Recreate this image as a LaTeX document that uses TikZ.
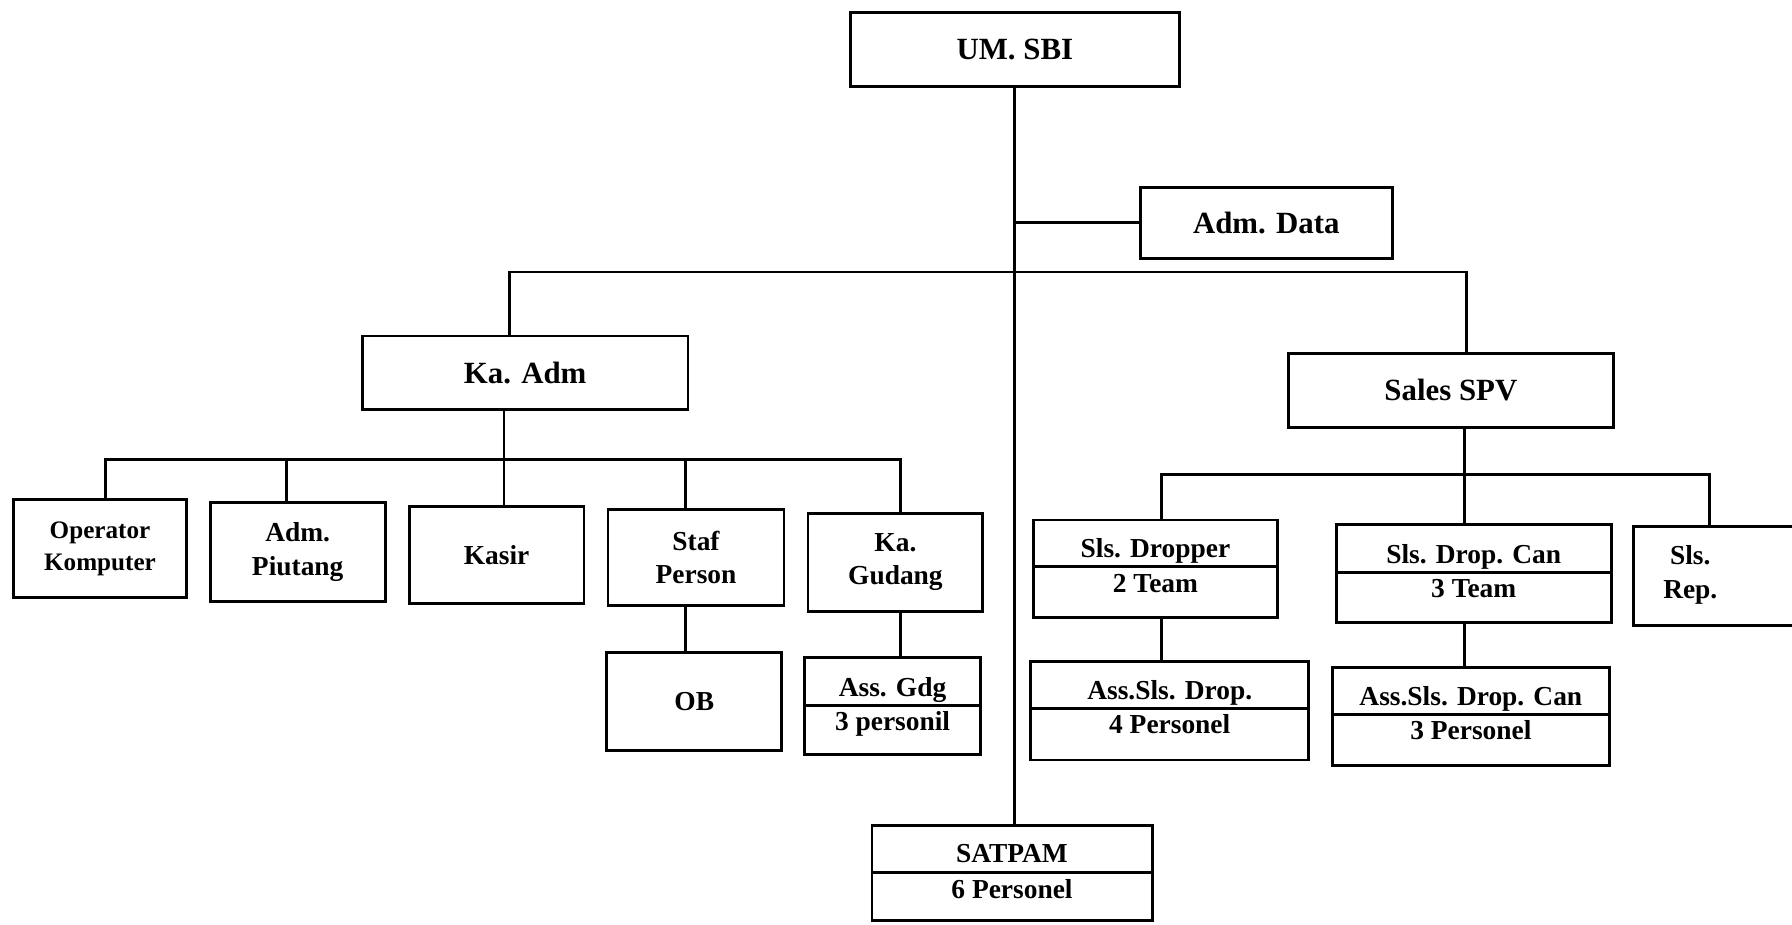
\documentclass[tikz,border=0pt]{standalone}
\usepackage{fontspec}
\setmainfont{Liberation Serif}
\begin{document}
\begin{tikzpicture}[x=1pt,y=-1pt,
  box/.style={draw, line width=2.6pt, inner sep=0pt, outer sep=0pt, align=center,
    font=\bfseries\fontsize{24}{29}\selectfont},
  bigbox/.style={box, font=\bfseries\fontsize{27}{30}\selectfont},
  smallbox/.style={box, font=\bfseries\fontsize{22}{28}\selectfont},
  txt/.style={inner sep=0pt, outer sep=0pt, align=center, anchor=base,
    font=\bfseries\fontsize{24}{29}\selectfont},
  link/.style={line width=2.6pt, line cap=rect},
  divider/.style={line width=2.6pt}]
\useasboundingbox (0,0) rectangle (1568,809);

% top level
\node[bigbox, minimum width=288, minimum height=65] (um) at (888,43.5) {UM. SBI};
\node[bigbox, minimum width=220, minimum height=62] (admdata) at (1108,195) {Adm. Data};
\node[bigbox, minimum width=285, minimum height=64] (kaadm) at (459.5,326) {Ka. Adm};
\node[bigbox, minimum width=285, minimum height=65] (sales) at (1269.5,341.5) {Sales SPV};

% admin children
\node[smallbox, minimum width=151, minimum height=86] (op) at (87.5,480) {Operator\\Komputer};
\node[box, minimum width=153, minimum height=86] (piutang) at (260.5,483) {Adm.\\Piutang};
\node[box, minimum width=153, minimum height=85] (kasir) at (434.5,485.5) {Kasir};
\node[box, minimum width=154, minimum height=84] (staf) at (609,488) {Staf\\Person};
\node[box, minimum width=153, minimum height=86] (gudang) at (783.5,492) {Ka.\\Gudang};
\node[box, minimum width=153, minimum height=86] (ob) at (607.5,614) {OB};

% Ass. Gdg
\node[box, minimum width=154, minimum height=85] (assgdg) at (781,617.5) {};
\node[txt] (assgdgA) at (781,609) {Ass. Gdg};
\node[txt] (assgdgB) at (781,639) {3 personil};
\draw[divider] (assgdg.west |- 0,617) -- (assgdg.east |- 0,617);

% sales children
\node[box, minimum width=214, minimum height=85] (dropper) at (1011,497.5) {};
\node[txt] (dropperA) at (1011,488) {Sls. Dropper};
\node[txt] (dropperB) at (1011,518) {2 Team};
\draw[divider] (dropper.west |- 0,496) -- (dropper.east |- 0,496);

\node[box, minimum width=241, minimum height=86] (dropcan) at (1289.5,502) {};
\node[txt] (dropcanA) at (1289.5,493) {Sls. Drop. Can};
\node[txt] (dropcanB) at (1289.5,523) {3 Team};
\draw[divider] (dropcan.west |- 0,501) -- (dropcan.east |- 0,501);

\node[box, minimum width=161, minimum height=86] (slsrep) at (1509.5,504) {};
\node[txt, anchor=center] (slsrepT) at (1479,503) {Sls.\\Rep.};

\node[box, minimum width=243, minimum height=86] (assdrop) at (1023.5,622) {};
\node[txt] (assdropA) at (1023.5,612) {Ass.Sls. Drop.};
\node[txt] (assdropB) at (1023.5,642) {4 Personel};
\draw[divider] (assdrop.west |- 0,620) -- (assdrop.east |- 0,620);

\node[box, minimum width=242, minimum height=86] (assdropcan) at (1287,627) {};
\node[txt] (assdropcanA) at (1287,617) {Ass.Sls. Drop. Can};
\node[txt] (assdropcanB) at (1287,647) {3 Personel};
\draw[divider] (assdropcan.west |- 0,625) -- (assdropcan.east |- 0,625);

% SATPAM
\node[box, minimum width=245, minimum height=83] (satpam) at (885.5,763.5) {};
\node[txt] (satpamA) at (885.5,755) {SATPAM};
\node[txt] (satpamB) at (885.5,786) {6 Personel};
\draw[divider] (satpam.west |- 0,763) -- (satpam.east |- 0,763);

% connectors
\draw[link] (um.south) -- (um.south |- satpam.north);
\draw[link] (admdata.west) -- (admdata.west -| um.south);

\coordinate (topL) at (446,238);
\coordinate (topR) at (1283,238);
\draw[link] (kaadm.north -| topL) -- (topL) -- (topR) -- (sales.north -| topR);

\coordinate (aK) at (441,402);
\coordinate (aOp) at (92,402);
\coordinate (aPi) at (251,402);
\coordinate (aSt) at (600,402);
\coordinate (aGu) at (788,402);
\draw[link] (kaadm.south -| aK) -- (kasir.north -| aK);
\draw[link] (op.north -| aOp) -- (aOp) -- (aGu) -- (gudang.north -| aGu);
\draw[link] (aPi) -- (piutang.north -| aPi);
\draw[link] (aSt) -- (staf.north -| aSt);
\draw[link] (staf.south -| aSt) -- (ob.north -| aSt);
\draw[link] (gudang.south -| aGu) -- (assgdg.north -| aGu);

\coordinate (sB) at (1281,415);
\coordinate (sL) at (1016,415);
\coordinate (sR) at (1496,415);
\draw[link] (sales.south -| sB) -- (dropcan.north -| sB);
\draw[link] (dropper.north -| sL) -- (sL) -- (sR) -- (slsrep.north -| sR);
\draw[link] (dropper.south -| sL) -- (assdrop.north -| sL);
\draw[link] (dropcan.south -| sB) -- (assdropcan.north -| sB);
\end{tikzpicture}
\end{document}
